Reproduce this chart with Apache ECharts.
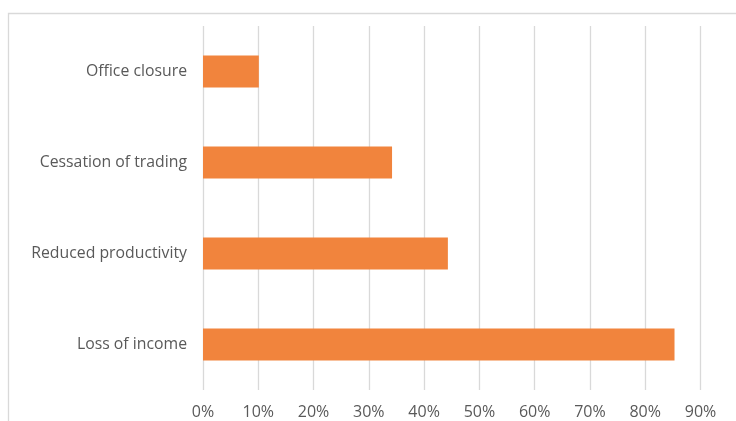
<!DOCTYPE html>
<html><head><meta charset="utf-8">
<script src="https://cdn.jsdelivr.net/npm/echarts@6/dist/echarts.min.js"></script>
<style>html,body{margin:0;padding:0;background:#fff}#c{width:736px;height:421px}</style>
</head><body><div id="c"></div>
<script>
const categories = ['Loss of income', 'Reduced productivity', 'Cessation of trading', 'Office closure'];
const values = [85.3, 44.3, 34.2, 10.1];
const tickLabels = ['0%','10%','20%','30%','40%','50%','60%','70%','80%','90%'];

const chart = echarts.init(document.getElementById('c'));
chart.setOption({
  animation: false,
  backgroundColor: '#fff',
  textStyle: { fontFamily: 'Open Sans' },
  graphic: [{
    type: 'rect', silent: true,
    shape: { x: 8.5, y: 13.5, width: 760, height: 440 },
    style: { fill: 'none', stroke: '#d9d9d9', lineWidth: 1.3 }
  }],
  grid: { left: 203, right: 35.5, top: 26, bottom: 31, containLabel: false },
  xAxis: {
    type: 'value', min: 0, max: 90, interval: 10,
    axisLine: { show: false }, axisTick: { show: false },
    splitLine: { lineStyle: { color: '#d9d9d9', width: 1.3 } },
    axisLabel: { color: '#595959', fontSize: 16, margin: 14,
      formatter: v => tickLabels[Math.round(v / 10)] }
  },
  yAxis: {
    type: 'category', data: categories,
    axisLine: { show: false }, axisTick: { show: false },
    axisLabel: { color: '#595959', fontSize: 15.8, margin: 16 }
  },
  series: [{
    type: 'bar', data: values, barCategoryGap: '65%',
    itemStyle: { color: '#F1843D' }
  }]
});
</script></body></html>
